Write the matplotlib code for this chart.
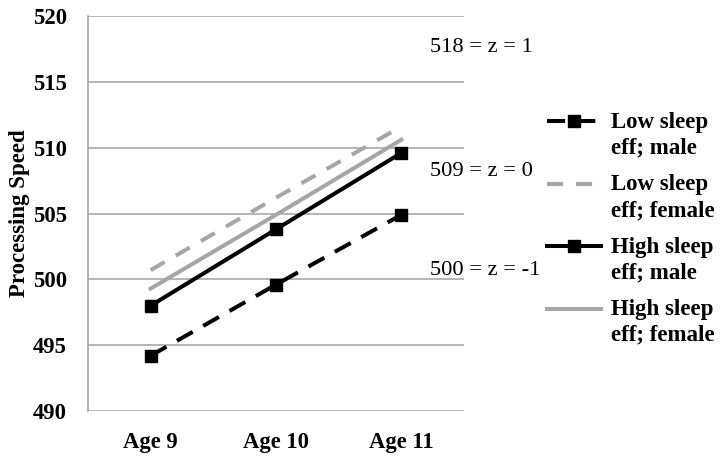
import matplotlib
matplotlib.use("Agg")
import matplotlib.pyplot as plt
from matplotlib.legend_handler import HandlerLine2D

ages = ["Age 9", "Age 10", "Age 11"]
low_male = [494.2, 499.6, 504.9]
low_female = [500.7, 506.2, 511.6]
high_male = [498.0, 503.8, 509.6]
high_female = [499.3, 504.9, 510.6]
yticks = [490, 495, 500, 505, 510, 515, 520]
notes = ["518 = z = 1", "509 = z = 0", "500 = z = -1"]
note_y = [517.6, 508.2, 500.7]

plt.rcParams['font.family'] = ['Liberation Serif', 'DejaVu Serif']


class TopHandler(HandlerLine2D):
    def __init__(self, shift=9.5, **kw):
        super().__init__(**kw)
        self.shift = shift

    def create_artists(self, legend, orig_handle, xdescent, ydescent, width,
                       height, fontsize, trans):
        return super().create_artists(legend, orig_handle, xdescent,
                                      ydescent - 2 * self.shift, width, height,
                                      fontsize, trans)


fig = plt.figure(figsize=(7.2, 4.59), dpi=100)
ax = fig.add_axes([88/720, 48/459, 376/720, 395/459])

x = list(range(len(ages)))
gray = '#A6A6A6'
l1, = ax.plot(x, low_male, color='black', lw=2.9, dashes=(4.5, 3), marker='s', ms=8.5,
              label='Low sleep\neff; male', zorder=4)
l2, = ax.plot(x, low_female, color=gray, lw=2.9, dashes=(4.0, 3.2),
              label='Low sleep\neff; female', zorder=3)
l3, = ax.plot(x, high_male, color='black', lw=2.9, marker='s', ms=8.5,
              label='High sleep\neff; male', zorder=4)
l4, = ax.plot(x, high_female, color=gray, lw=2.9,
              label='High sleep\neff; female', zorder=3)

ax.set_xlim(-0.5, 2.5)
ax.set_ylim(490, 520)
ax.set_yticks(yticks)
ax.set_xticks(x)
ax.set_xticklabels(ages)
ax.yaxis.grid(True, color='#A0A0A0', lw=1.1)
ax.set_axisbelow(True)
for s in ['top', 'right', 'bottom']:
    ax.spines[s].set_visible(False)
ax.spines['left'].set_color('#A0A0A0')
ax.spines['left'].set_linewidth(1.1)
ax.tick_params(length=0, labelsize=16.3)
ax.tick_params(axis='y', pad=15)
ax.tick_params(axis='x', pad=15)
for lab in ax.get_xticklabels() + ax.get_yticklabels():
    lab.set_fontweight('bold')
ax.set_ylabel('Processing Speed', fontsize=16.5, fontweight='bold', labelpad=2)

for t, yv in zip(notes, note_y):
    ax.text(2.23, yv, t, fontsize=16.2, ha='left', va='center')

hm = {h: TopHandler(shift=10.0) for h in (l1, l2, l3, l4)}
leg = ax.legend(handles=[l1, l2, l3, l4], handler_map=hm,
                loc='upper left', bbox_to_anchor=(547/720, 1 - 112/459),
                bbox_transform=fig.transFigure, frameon=False,
                prop={'size': 16.5, 'weight': 'bold'}, handlelength=2.35,
                handletextpad=0.45, labelspacing=0.68, borderpad=0, borderaxespad=0,
                numpoints=1)
for t in leg.get_texts():
    t.set_linespacing(1.3)

fig.savefig('out.png', dpi=100)
